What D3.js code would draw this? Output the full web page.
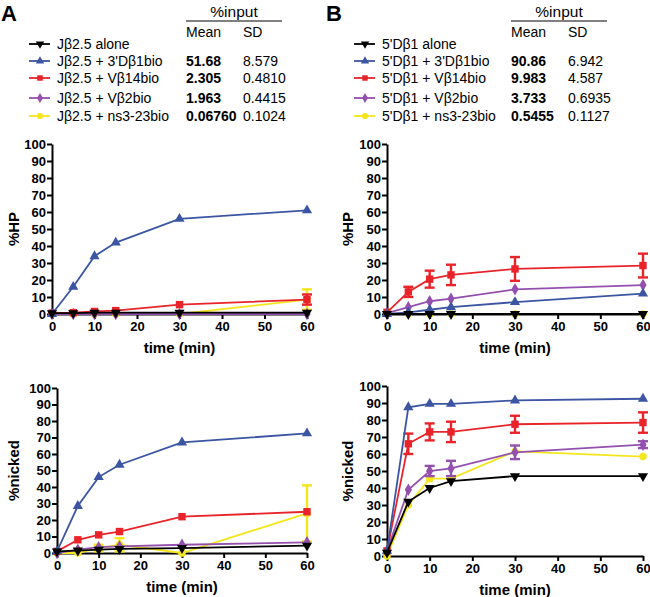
<!DOCTYPE html>
<html>
<head>
<meta charset="utf-8">
<script src="https://cdn.jsdelivr.net/npm/d3@7"></script>
<style>
  body { margin: 0; background: #fff; }
  text { font-family: "Liberation Sans", Arial, sans-serif; }
</style>
</head>
<body>
<script>
const times = [0, 5, 10, 15, 30, 60];
const colors = ["#000000", "#3b55a3", "#e8242a", "#9350ae", "#f4e61c"];
const symbols = [d3.symbolTriangle, d3.symbolTriangle, d3.symbolSquare, d3.symbolDiamond, d3.symbolCircle];

const namesA = ["Jβ2.5 alone", "Jβ2.5 + 3'Dβ1bio", "Jβ2.5 + Vβ14bio", "Jβ2.5 + Vβ2bio", "Jβ2.5 + ns3-23bio"];
const meanA = ["", "51.68", "2.305", "1.963", "0.06760"];
const sdA = ["", "8.579", "0.4810", "0.4415", "0.1024"];

const namesB = ["5'Dβ1 alone", "5'Dβ1 + 3'Dβ1bio", "5'Dβ1 + Vβ14bio", "5'Dβ1 + Vβ2bio", "5'Dβ1 + ns3-23bio"];
const meanB = ["", "90.86", "9.983", "3.733", "0.5455"];
const sdB = ["", "6.942", "4.587", "0.6935", "0.1127"];

// values per series (alone, 3'Db1, Vb14, Vb2, ns3-23)
const hpA = [
  [0.5, 0.5, 0.8, 0.8, 0.8, 0.8],
  [0, 16, 34, 42, 56, 61],
  [0.5, 0.8, 1.5, 2, 5.5, 8.5],
  [0, 0, 0, 0, 0, 0],
  [0, 0, 0, 0, 0, 8.5]
];
const hpAErr = [
  [0, 0, 0, 0, 0, 0],
  [0, 0, 0, 0, 0, 0],
  [0, 0, 0, 0, 0, 3],
  [0, 0, 0, 0, 0, 0],
  [0, 0, 0, 0, 0, 6]
];
const hpB = [
  [0, 0, 0, 0, 0, 0],
  [0, 1, 2.5, 4, 7, 12],
  [1, 13, 20.5, 23, 26.5, 28.5],
  [0.5, 4, 7.5, 9, 14.5, 17],
  [0, 0, 0, 0, 0, 0]
];
const hpBErr = [
  [0, 0, 0, 0, 0, 0],
  [0, 0, 0, 0, 0, 0],
  [0, 3, 5, 6, 7, 7],
  [0, 0, 0, 0, 0, 0],
  [0, 0, 0, 0, 0, 0]
];
const nickA = [
  [1, 1.5, 2, 2.5, 3, 4.5],
  [1, 28.5, 46, 53.5, 67, 72.5],
  [1, 8, 11, 13, 22, 25],
  [0, 2, 3.5, 4, 5, 6.5],
  [0, 0, 3, 5, 0, 24]
];
const nickAErr = [
  [0, 0, 0, 0, 0, 0],
  [0, 0, 0, 0, 0, 0],
  [0, 0, 0, 0, 0, 0],
  [0, 0, 0, 0, 0, 0],
  [0, 0, 2, 4, 0, 17]
];
const nickB = [
  [2, 32, 40, 44, 47, 47],
  [3, 87.5, 89.5, 89.5, 91.5, 92.5],
  [3, 66, 73, 73, 77.5, 78.5],
  [3, 39, 50, 51.5, 61, 65.5],
  [0, 30, 45.5, 45.5, 61.5, 58.5]
];
const nickBErr = [
  [0, 0, 0, 0, 0, 0],
  [0, 0, 0, 0, 0, 0],
  [0, 6, 5, 6, 5, 6],
  [0, 0, 3, 4.5, 4, 2],
  [0, 0, 0, 0, 0, 0]
];

const yTicks = d3.range(0, 101, 10);
const xTicks = [0, 10, 20, 30, 40, 50, 60];

const svg = d3.select("body").append("svg")
  .attr("width", 650)
  .attr("height", 597);

function legend(letter, x0, names, means, sds) {
  const g = svg.append("g");
  g.append("text").attr("x", x0 + 1).attr("y", 21)
    .style("font-size", "22px").style("font-weight", "bold").text(letter);
  const mx = x0 + 186, sx = x0 + 243;
  g.append("text").attr("x", mx + 48).attr("y", 17).attr("text-anchor", "middle")
    .style("font-size", "15.5px").text("%input");
  g.append("line").attr("x1", mx).attr("x2", mx + 96).attr("y1", 21).attr("y2", 21)
    .attr("stroke", "#000").attr("stroke-width", 1);
  g.append("text").attr("x", mx).attr("y", 37).style("font-size", "14px").text("Mean");
  g.append("text").attr("x", sx).attr("y", 37).style("font-size", "14px").text("SD");
  const rowY = [44, 61, 78, 98, 116];
  names.forEach((n, i) => {
    const y = rowY[i];
    g.append("line").attr("x1", x0 + 29).attr("x2", x0 + 50).attr("y1", y).attr("y2", y)
      .attr("stroke", colors[i]).attr("stroke-width", 1.8);
    g.append("path")
      .attr("d", d3.symbol(symbols[i], 30)())
      .attr("transform", `translate(${x0 + 40},${y})` + (i === 0 ? " rotate(180)" : ""))
      .attr("fill", colors[i]);
    g.append("text").attr("x", x0 + 57).attr("y", y + 5).style("font-size", "14px").text(n);
    g.append("text").attr("x", mx).attr("y", y + 5).style("font-size", "14px")
      .style("font-weight", "bold").text(means[i]);
    g.append("text").attr("x", sx).attr("y", y + 5).style("font-size", "14px").text(sds[i]);
  });
}

legend("A", 0, namesA, meanA, sdA);
legend("B", 325, namesB, meanB, sdB);

function panel(opt) {
  const x = d3.scaleLinear().domain([0, 60]).range([opt.left, opt.right]);
  const y = d3.scaleLinear().domain([0, 100]).range([opt.bottom, opt.top]);
  const g = svg.append("g");

  const ya = g.append("g").attr("transform", `translate(${opt.left},0)`)
    .call(d3.axisLeft(y).tickValues(yTicks).tickSize(5).tickPadding(1).tickSizeOuter(0));
  const xa = g.append("g").attr("transform", `translate(0,${opt.bottom})`)
    .call(d3.axisBottom(x).tickValues(xTicks).tickSize(5).tickPadding(3).tickSizeOuter(0));
  [ya, xa].forEach(a => {
    a.selectAll("path, line").attr("stroke", "#000").attr("stroke-width", 2);
    a.selectAll("text").style("font-size", "13px").style("font-weight", "bold")
      .style("font-family", "'Liberation Sans', Arial, sans-serif").attr("fill", "#000");
  });

  g.append("text")
    .attr("transform", `translate(${opt.ylabX},${(opt.top + opt.bottom) / 2}) rotate(-90)`)
    .attr("text-anchor", "middle").attr("dy", "0.35em")
    .style("font-size", "15px").style("font-weight", "bold").text(opt.ylabel);
  g.append("text")
    .attr("x", (opt.left + opt.right) / 2).attr("y", opt.bottom + 39)
    .attr("text-anchor", "middle")
    .style("font-size", "15px").style("font-weight", "bold").text("time (min)");

  const line = d3.line().x((d, i) => x(times[i])).y(d => y(d));
  // draw in reverse so "alone" ends up on top
  for (let s = 4; s >= 0; s--) {
    const sg = g.append("g");
    sg.append("path").attr("d", line(opt.values[s]))
      .attr("fill", "none").attr("stroke", colors[s]).attr("stroke-width", 1.8);
    opt.values[s].forEach((v, i) => {
      const e = opt.errors[s][i];
      if (e > 0) {
        const cx = x(times[i]);
        sg.append("line").attr("x1", cx).attr("x2", cx)
          .attr("y1", y(v - e)).attr("y2", y(v + e))
          .attr("stroke", colors[s]).attr("stroke-width", 2.4);
        [v - e, v + e].forEach(b => {
          sg.append("line").attr("x1", cx - 5).attr("x2", cx + 5)
            .attr("y1", y(b)).attr("y2", y(b))
            .attr("stroke", colors[s]).attr("stroke-width", 2.4);
        });
      }
    });
    sg.selectAll(".pt").data(opt.values[s]).join("path")
      .attr("class", "pt")
      .attr("d", d3.symbol(symbols[s], s === 2 ? 55 : 45)())
      .attr("transform", (d, i) => `translate(${x(times[i])},${y(d)})` + (s === 0 ? " rotate(180)" : ""))
      .attr("fill", colors[s]);
  }
}

panel({ left: 52, right: 307, top: 144, bottom: 314, ylabX: 14, ylabel: "%HP", values: hpA, errors: hpAErr });
panel({ left: 387, right: 643, top: 144, bottom: 314, ylabX: 348, ylabel: "%HP", values: hpB, errors: hpBErr });
panel({ left: 57, right: 307, top: 388, bottom: 553, ylabX: 14, ylabel: "%nicked", values: nickA, errors: nickAErr });
panel({ left: 387, right: 643, top: 386, bottom: 556, ylabX: 348, ylabel: "%nicked", values: nickB, errors: nickBErr });
</script>
</body>
</html>
